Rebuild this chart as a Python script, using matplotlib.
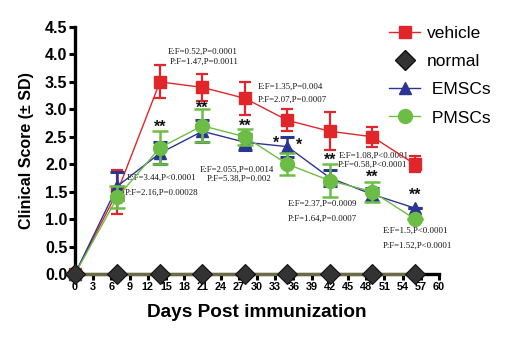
import matplotlib
matplotlib.use("Agg")
import matplotlib.pyplot as plt
from matplotlib.lines import Line2D

days = [0, 7, 14, 21, 28, 35, 42, 49, 56]
vehicle = [0, 1.5, 3.5, 3.4, 3.2, 2.8, 2.6, 2.5, 2.0]
vehicle_sd = [0, 0.4, 0.3, 0.25, 0.3, 0.2, 0.35, 0.18, 0.15]
normal = [0, 0, 0, 0, 0, 0, 0, 0, 0]
emscs = [0, 1.6, 2.2, 2.6, 2.4, 2.32, 1.75, 1.45, 1.2]
emscs_sd = [0, 0.25, 0.2, 0.2, 0.15, 0.18, 0.15, 0.12, 0]
pmscs = [0, 1.4, 2.3, 2.7, 2.5, 2.0, 1.7, 1.5, 1.0]
pmscs_sd = [0, 0.2, 0.3, 0.3, 0.15, 0.2, 0.3, 0.18, 0]

star_days = [14, 21, 28, 42, 49, 56]
star_vals = [2.68, 3.02, 2.7, 2.08, 1.76, 1.44]
single_star_days = [33.2, 37.0]
single_star_vals = [2.38, 2.34]

annotation_lines = [
    (15.3, 4.04, "E:F=0.52,P=0.0001"),
    (15.6, 3.86, "P:F=1.47,P=0.0011"),
    (30.15, 3.41, "E:F=1.35,P=0.004"),
    (30.15, 3.17, "P:F=2.07,P=0.0007"),
    (8.57, 1.75, "E:F=3.44,P<0.0001"),
    (8.24, 1.48, "P:F=2.16,P=0.00028"),
    (20.6, 1.89, "E:F=2.055,P=0.0014"),
    (21.75, 1.73, "P:F=5.38,P=0.002"),
    (43.5, 2.15, "E:F=1.08,P<0.0001"),
    (43.3, 1.99, "P:F=0.58,P<0.0001"),
    (35.1, 1.28, "E:F=2.37,P=0.0009"),
    (35.1, 1.00, "P:F=1.64,P=0.0007"),
    (50.7, 0.78, "E:F=1.5,P<0.0001"),
    (50.7, 0.51, "P:F=1.52,P<0.0001"),
]

red = "#e0262b"
blue = "#2b3592"
green = "#6cbd45"
olive = "#6e6a45"

fig = plt.figure(figsize=(5.1, 3.42), dpi=100)
ax = fig.add_axes([0.147, 0.199, 0.714, 0.722])

ax.plot(days, normal, color=olive, lw=2.2, marker="D", ms=10.5,
        mfc="#333333", mec="#111111", mew=0.8, zorder=6, clip_on=False)
ax.errorbar(days, vehicle, yerr=vehicle_sd, color=red, lw=1.0, marker="s", ms=8.5,
            elinewidth=1.6, capsize=4, capthick=1.6, zorder=3, clip_on=False)
ax.errorbar(days, emscs, yerr=emscs_sd, color=blue, lw=1.0, marker="^", ms=9,
            elinewidth=1.8, capsize=5, capthick=2.2, zorder=4, clip_on=False)
ax.errorbar(days, pmscs, yerr=pmscs_sd, color=green, lw=1.0, marker="o", ms=10,
            elinewidth=1.8, capsize=5.5, capthick=1.8, zorder=5, clip_on=False)

for d, v in zip(star_days, star_vals):
    ax.text(d, v, "**", ha="center", va="center", fontsize=11.5, fontweight="bold",
            family="Liberation Sans", color="#111111")
for d, v in zip(single_star_days, single_star_vals):
    ax.text(d, v, "*", ha="center", va="center", fontsize=11.5, fontweight="bold",
            family="Liberation Sans", color="#111111")

for x, y, s in annotation_lines:
    ax.text(x, y, s, ha="left", va="center", fontsize=6.3, family="Liberation Serif",
            color="#111111")

ax.set_xlim(0, 60)
ax.set_ylim(0, 4.5)
ax.set_xticks(range(0, 61, 3))
ax.set_yticks([i * 0.5 for i in range(10)])
ax.set_yticklabels([f"{i * 0.5:.1f}" for i in range(10)])
for s in ["top", "right"]:
    ax.spines[s].set_visible(False)
for s in ["left", "bottom"]:
    ax.spines[s].set_linewidth(2.4)
ax.tick_params(axis="x", direction="out", length=4, width=2.2, pad=1.5)
ax.tick_params(axis="y", direction="out", length=4, width=2.2, pad=1.5)
for lab in ax.get_xticklabels():
    lab.set_fontsize(7.8)
    lab.set_fontweight("bold")
    lab.set_family("Liberation Sans")
for lab in ax.get_yticklabels():
    lab.set_fontsize(11.5)
    lab.set_fontweight("bold")
    lab.set_family("Liberation Sans")

ax.set_xlabel("Days Post immunization", fontsize=13.7, fontweight="bold",
              family="Liberation Sans", labelpad=9)
ax.set_ylabel("Clinical Score (± SD)", fontsize=11.5, fontweight="bold",
              family="Liberation Sans", labelpad=8)

handles = [
    Line2D([], [], color=red, lw=1.0, marker="s", ms=8.5),
    Line2D([], [], color="none", marker="D", ms=10.5, mfc="#333333", mec="#111111"),
    Line2D([], [], color=blue, lw=1.0, marker="^", ms=9),
    Line2D([], [], color=green, lw=1.0, marker="o", ms=10),
]
labels = ["vehicle", "normal", " EMSCs", " PMSCs"]
fig.legend(handles, labels, loc="upper left", bbox_to_anchor=(0.732, 0.97),
           frameon=False, prop={"family": "Liberation Sans", "size": 12.5},
           handlelength=1.8, handletextpad=0.4, labelspacing=0.75)

fig.savefig("out.png", dpi=100)
